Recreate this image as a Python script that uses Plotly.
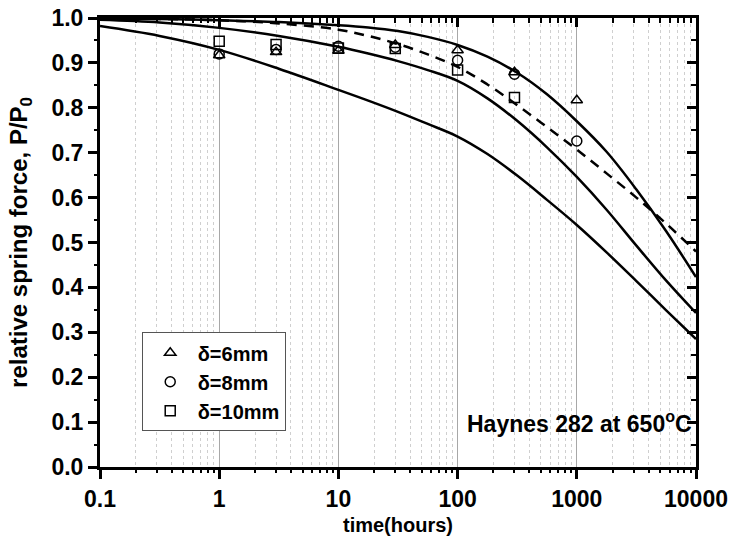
import plotly.graph_objects as go

# ---- data ----
t_pts = [1, 3, 10, 30, 100, 300, 1000]
p_6mm = [0.917, 0.924, 0.927, 0.940, 0.928, 0.879, 0.817]
p_8mm = [0.920, 0.930, 0.937, 0.935, 0.906, 0.875, 0.726]
t_pts10 = [1, 3, 10, 30, 100, 300]
p_10mm = [0.948, 0.941, 0.933, 0.932, 0.884, 0.823]

t_curve = [0.1, 0.316, 1, 3.16, 10, 17.8, 31.6, 56.2, 100, 178, 316, 562, 1000, 1778, 3162, 5623, 10000]
curve_a = [0.999, 0.998, 0.995, 0.991, 0.984, 0.979, 0.971, 0.958, 0.940, 0.914, 0.878, 0.830, 0.770, 0.702, 0.618, 0.525, 0.423]
curve_b = [0.996, 0.990, 0.978, 0.960, 0.936, 0.921, 0.904, 0.884, 0.860, 0.821, 0.771, 0.712, 0.646, 0.573, 0.493, 0.415, 0.343]
curve_c = [0.982, 0.960, 0.929, 0.887, 0.840, 0.816, 0.791, 0.764, 0.736, 0.697, 0.649, 0.595, 0.539, 0.478, 0.414, 0.349, 0.285]
curve_d = [0.999, 0.998, 0.995, 0.988, 0.974, 0.960, 0.942, 0.919, 0.891, 0.852, 0.806, 0.757, 0.707, 0.654, 0.600, 0.542, 0.480]

x_ticks = [0.1, 1, 10, 100, 1000, 10000]
x_ticktext = ["0.1", "1", "10", "100", "1000", "10000"]
x_minor = [m * d for d in [0.1, 1, 10, 100, 1000] for m in range(2, 10)]
y_ticks = [0.0, 0.1, 0.2, 0.3, 0.4, 0.5, 0.6, 0.7, 0.8, 0.9, 1.0]
y_minor = [0.05, 0.15, 0.25, 0.35, 0.45, 0.55, 0.65, 0.75, 0.85, 0.95]

FONT = "Arial, Liberation Sans, sans-serif"

fig = go.Figure()

for ys, dash in [(curve_a, "solid"), (curve_b, "solid"), (curve_c, "solid"), (curve_d, "10px,7px")]:
    fig.add_trace(go.Scatter(x=t_curve, y=ys, mode="lines", showlegend=False, hoverinfo="skip",
                             line=dict(color="black", width=2.5, dash=dash, shape="spline")))

for name, xs, ys, sym in [("δ=6mm", t_pts, p_6mm, "triangle-up-open"),
                          ("δ=8mm", t_pts, p_8mm, "circle-open"),
                          ("δ=10mm", t_pts10, p_10mm, "square-open")]:
    fig.add_trace(go.Scatter(x=xs, y=ys, mode="markers", name=name,
                             marker=dict(symbol=sym, size=10, color="black",
                                         line=dict(color="black", width=1.5))))

# invisible traces on coincident subplots that only carry extra tick marks
for xa, ya in [("x2", "y2"), ("x3", "y3"), ("x4", "y4")]:
    fig.add_trace(go.Scatter(x=[1], y=[0.5], xaxis=xa, yaxis=ya, mode="markers",
                             marker=dict(opacity=0, size=1), showlegend=False, hoverinfo="skip"))

XR = [-1, 4]
YR = [0, 1]
tick_major = dict(ticklen=9, tickwidth=2.5, tickcolor="black")
tick_minor = dict(ticklen=5, tickwidth=2, tickcolor="black")
bare = dict(showticklabels=False, showgrid=False, showline=False, zeroline=False,
            automargin=False, fixedrange=True, domain=[0, 1])

fig.update_layout(
    width=729, height=543,
    margin=dict(l=100, r=33, t=18, b=76),
    paper_bgcolor="white", plot_bgcolor="rgba(0,0,0,0)",
    font=dict(family=FONT, color="black"),
    xaxis=dict(type="log", range=XR, tickmode="array", tickvals=x_ticks, ticktext=x_ticktext,
               ticks="outside", **tick_major, automargin=False,
               tickfont=dict(size=23, weight="bold", family=FONT),
               showgrid=True, gridcolor="#a8a8a8", gridwidth=1,
               minor=dict(tickvals=x_minor, ticks="", showgrid=True,
                          gridcolor="#cfcfcf", gridwidth=1, griddash="3px,3px"),
               showline=True, mirror=True, linecolor="black", linewidth=3, zeroline=False,
               title=dict(text="time(hours)", font=dict(size=20, weight="bold", family=FONT), standoff=8)),
    yaxis=dict(range=YR, tickmode="array", tickvals=y_ticks, tickformat=".1f",
               ticks="outside", **tick_major, automargin=False,
               tickfont=dict(size=23, weight="bold", family=FONT),
               showgrid=False, showline=True, mirror=True, linecolor="black", linewidth=3, zeroline=False,
               title=dict(text="relative spring force, P/P<sub>0</sub>",
                          font=dict(size=24, weight="bold", family=FONT), standoff=18)),
    # top / right major ticks (inside)
    xaxis2=dict(type="log", range=XR, anchor="y2", side="top", tickmode="array", tickvals=x_ticks,
                ticks="inside", **tick_major, **bare),
    yaxis2=dict(range=YR, anchor="x2", side="right", tickmode="array", tickvals=y_ticks,
                ticks="inside", **tick_major, **bare),
    # top / right minor ticks (inside)
    xaxis3=dict(type="log", range=XR, anchor="y3", side="top", tickmode="array", tickvals=x_minor,
                ticks="inside", **tick_minor, **bare),
    yaxis3=dict(range=YR, anchor="x3", side="right", tickmode="array", tickvals=y_minor,
                ticks="inside", **tick_minor, **bare),
    # bottom / left minor ticks (outside)
    xaxis4=dict(type="log", range=XR, anchor="y4", side="bottom", tickmode="array", tickvals=x_minor,
                ticks="outside", **tick_minor, **bare),
    yaxis4=dict(range=YR, anchor="x4", side="left", tickmode="array", tickvals=y_minor,
                ticks="outside", **tick_minor, **bare),
    legend=dict(x=0.07, y=0.30, xanchor="left", yanchor="top",
                bgcolor="white", bordercolor="#555", borderwidth=1,
                font=dict(size=20, weight="bold", family=FONT), itemwidth=45),
    annotations=[dict(text="Haynes 282 at 650<sup>o</sup>C", xref="paper", yref="y",
                      x=0.997, y=0.1, xanchor="right", yanchor="middle", showarrow=False,
                      font=dict(size=23, weight="bold", family=FONT))],
)

fig.write_html("out.html")
